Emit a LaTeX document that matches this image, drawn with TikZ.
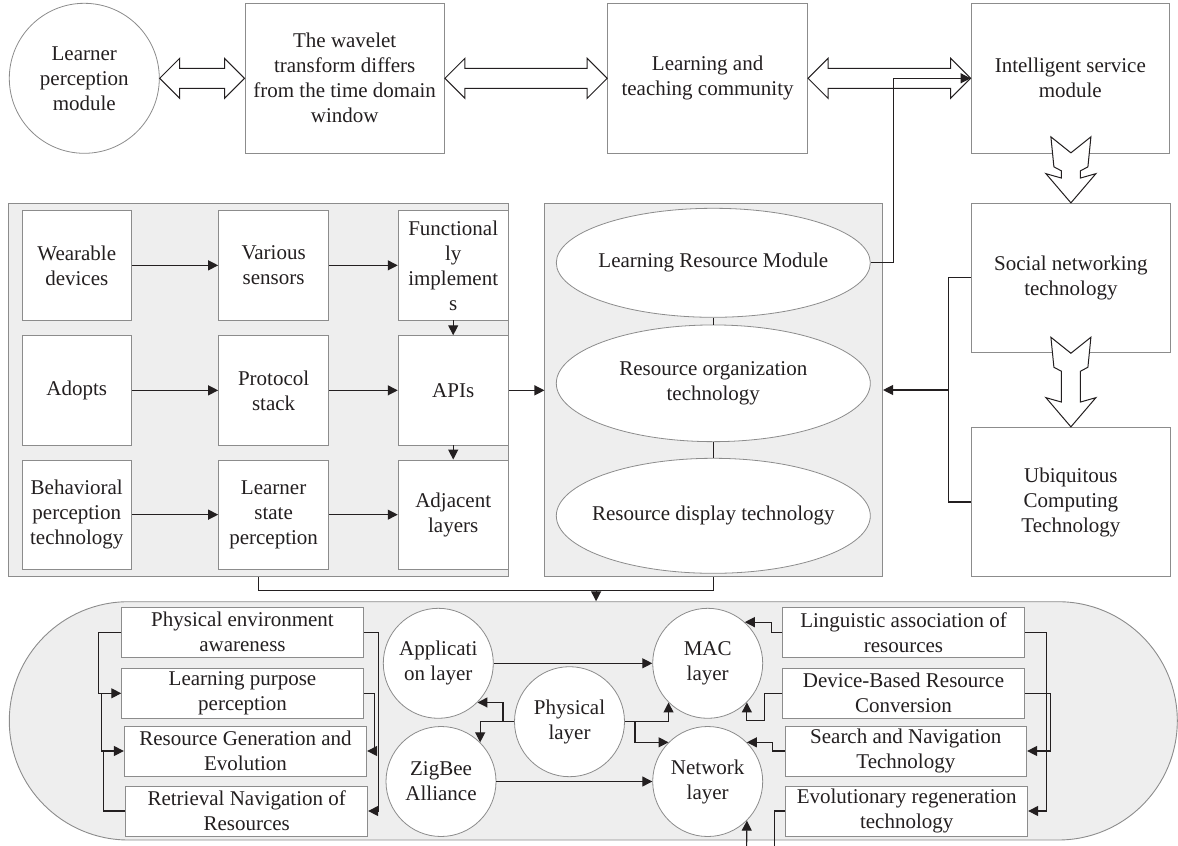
\documentclass[tikz,border=0pt]{standalone}
\usepackage{fontspec}
\setmainfont{Liberation Serif}
\usetikzlibrary{arrows.meta,shapes.geometric,shapes.misc,calc}
\definecolor{bordergray}{RGB}{140,140,140}
\definecolor{panelfill}{RGB}{238,238,238}
\definecolor{ink}{RGB}{35,31,32}
\tikzset{
  txt/.style={font=\fontsize{21}{25}\selectfont, text=ink, align=center, inner sep=0pt},
  box/.style={txt, draw=bordergray, fill=white, line width=0.9pt, rectangle},
  panel/.style={draw=bordergray, fill=panelfill, line width=0.9pt, inner sep=0pt},
  circ/.style={txt, draw=bordergray, fill=white, line width=0.8pt, circle, minimum size=110pt},
  ell/.style={draw=bordergray, fill=white, line width=0.8pt, ellipse, inner sep=0pt},
  conn/.style={draw=ink, line width=1.2pt},
  arr/.style={conn, -{Triangle[length=10pt,width=10pt]}},
  hollow/.style={draw=ink, fill=white, line width=1pt, line join=miter},
}
\newcommand{\hollowdbl}[2]{%
  \draw[hollow] (#1) -- ++(20,-20) -- ++(0,10) -- ($(#2)+(-20,-10)$) -- ++(0,-10)
    -- (#2) -- ++(-20,20) -- ++(0,-10) -- ($(#1)+(20,10)$) -- ++(0,10) -- cycle;}
\newcommand{\notchedarrow}[2]{%
  \draw[hollow] (#1) -- ($(#1)+(25,-29.2)$) -- ($(#1)+(9.5,-24.8)$) -- ($(#1)+(9.5,-#2)$)
    -- ($(#1)+(17,-#2-4)$) -- ($(#1)+(20,-#2-34)$) -- ($(#1)+(0,-#2-18)$)
    -- ($(#1)+(-20,-#2-34)$) -- ($(#1)+(-17,-#2-4)$) -- ($(#1)+(-9.5,-#2)$)
    -- ($(#1)+(-9.5,-24.8)$) -- ($(#1)+(-25,-29.2)$) -- cycle;}
\begin{document}
\begin{tikzpicture}[x=1pt,y=-1pt]
\useasboundingbox (0,0) rectangle (1178,846);

% ---------- top row ----------
\node[circ, minimum size=150pt] (learner) at (84.3,78.3) {Learner\\perception\\module};
\node[box, minimum width=199.5pt, minimum height=150pt] (wav) at (344.7,78.3) {The wavelet\\transform differs\\from the time domain\\window};
\node[box, minimum width=200pt, minimum height=150pt] (learn) at (707.6,78.3) {Learning and\\teaching community};
\node[box, minimum width=198.5pt, minimum height=150pt] (intel) at (1070.3,78.3) {Intelligent service\\module};

\hollowdbl{learner.east}{wav.west}
\hollowdbl{wav.east}{learn.west}
\hollowdbl{learn.east}{intel.west}

% ---------- middle panels ----------
\node[panel, minimum width=499.3pt, minimum height=373.4pt] (lpan) at (258.55,390) {};
\node[panel, minimum width=337.7pt, minimum height=373.4pt] (mid) at (713.75,390) {};

\node[box, minimum width=109.3pt, minimum height=109.3pt] (b11) at (76.75,265.35) {Wearable\\devices};
\node[box, minimum width=110pt, minimum height=109.3pt] (b12) at (273.6,265.35) {Various\\sensors};
\node[box, minimum width=110pt, minimum height=109.3pt] (b13) at (453.2,265.35) {Functional\\ly\\implement\\s};
\node[box, minimum width=109.3pt, minimum height=109.3pt] (b21) at (76.75,390.35) {Adopts};
\node[box, minimum width=110pt, minimum height=109.3pt] (b22) at (273.6,390.35) {Protocol\\stack};
\node[box, minimum width=110pt, minimum height=109.3pt] (b23) at (453.2,390.35) {APIs};
\node[box, minimum width=109.3pt, minimum height=109.3pt] (b31) at (76.75,514.65) {Behavioral\\perception\\technology};
\node[box, minimum width=110pt, minimum height=109.3pt] (b32) at (273.6,514.65) {Learner\\state\\perception};
\node[box, minimum width=110pt, minimum height=109.3pt] (b33) at (453.2,514.65) {Adjacent\\layers};

\node[ell, minimum width=314pt, minimum height=109pt, label={[txt]center:{Learning Resource Module}}] (e1) at (713.3,262.8) {};
\node[ell, minimum width=314pt, minimum height=116.7pt, label={[txt]center:{Resource organization\\technology}}] (e2) at (713.3,383.3) {};
\node[ell, minimum width=314pt, minimum height=115pt, label={[txt]center:{Resource display technology}}] (e3) at (713.3,515.8) {};

\node[box, minimum width=199.4pt, minimum height=149pt] (soc) at (1070.9,277.8) {Social networking\\technology};
\node[box, minimum width=199.4pt, minimum height=149.4pt] (ubq) at (1070.9,502) {Ubiquitous\\Computing\\Technology};

\notchedarrow{soc.north}{32}
\notchedarrow{ubq.north}{55.6}

% ---------- bottom panel ----------
\node[panel, rounded rectangle, minimum width=1168pt, minimum height=238.3pt] (bot) at (593.3,720.85) {};

\node[box, minimum width=241.6pt, minimum height=50pt] (phys) at (242.5,632.3) {Physical environment\\awareness};
\node[box, minimum width=241.6pt, minimum height=50pt] (lpur) at (242.5,693.3) {Learning purpose\\perception};
\node[box, minimum width=242.4pt, minimum height=50pt] (rgen) at (245.5,751) {Resource Generation and\\Evolution};
\node[box, minimum width=242pt, minimum height=50pt] (retr) at (246.7,811) {Retrieval Navigation of\\Resources};

\node[box, minimum width=241.6pt, minimum height=50pt] (ling) at (903.5,632.3) {Linguistic association of\\resources};
\node[box, minimum width=241.6pt, minimum height=50pt] (dev) at (903.5,693.3) {Device-Based Resource\\Conversion};
\node[box, minimum width=241.7pt, minimum height=50pt] (search) at (905.8,751) {Search and Navigation\\Technology};
\node[box, minimum width=242pt, minimum height=50pt] (evol) at (906.7,811) {Evolutionary regeneration\\technology};

\node[circ] (app) at (438.3,663.3) {Applicati\\on layer};
\node[circ] (zig) at (441,781.5) {ZigBee\\Alliance};
\node[circ] (phy) at (569.5,721.7) {Physical\\layer};
\node[circ] (mac) at (707.7,663.3) {MAC\\layer};
\node[circ] (net) at (707.7,781.5) {Network\\layer};

% ---------- connectors: middle ----------
\draw[arr] (b11.east) -- (b12.west);
\draw[arr] (b12.east) -- (b13.west);
\draw[arr] (b21.east) -- (b22.west);
\draw[arr] (b22.east) -- (b23.west);
\draw[arr] (b31.east) -- (b32.west);
\draw[arr] (b32.east) -- (b33.west);
\draw[arr] (b13.south) -- (b23.north);
\draw[arr] (b23.south) -- (b33.north);
\draw[arr] (b23.east) -- (b23.east -| mid.west);

\draw[conn] (e1.south) -- (e2.north);
\draw[conn] (e2.south) -- (e3.north);
\draw[arr] (e1.east) -- ++(22.8,0) |- (intel.west);

\draw[conn] (soc.west) -- ++(-22.3,0) |- (ubq.west);
\coordinate (sj) at (948.9,390);
\draw[arr] (sj) -- (sj -| mid.east);

\draw[conn] (lpan.south) -- ++(0,13.3) -| (mid.south);
\coordinate (dj) at (596.1,590);
\draw[arr] (dj) -- (dj |- bot.north);

% ---------- connectors: bottom left ----------
\draw[arr] (phys.west) -- ++(-22.4,0) |- (lpur.west);
\coordinate (lj1) at (101.7,693.3);
\draw[arr] (lj1) |- (rgen.west);
\coordinate (lj2) at (103.3,751);
\draw[conn] (retr.west) -| (lj2);
\draw[arr] (phys.east) -- ++(15,0) |- (retr.east);
\draw[arr] (lpur.east) -- ++(11,0) |- (rgen.east);

% ---------- connectors: circles ----------
\draw[arr] (app.east) -- (mac.west);
\draw[arr] (zig.east) -- (net.west);
\draw[arr] (phy.west) -- ++(-11.2,0) |- (app.-45);
\coordinate (pj1) at (503.3,721.7);
\draw[arr] (pj1) -| (zig.45);
\draw[arr] (phy.east) -| (mac.-135);
\coordinate (pj2) at (635,721.7);
\draw[arr] (pj2) |- (net.135);

% ---------- connectors: bottom right ----------
\draw[arr] (ling.west) -- ++(-10.4,0) |- (mac.48);
\draw[arr] (dev.west) -- ++(-17.7,0) -- ++(0,27.4) -| (mac.-45);
\draw[arr] (search.west) -- ++(-11.7,0) |- (net.45);
\coordinate (ev) at (774.3,846);
\draw[conn] (evol.west) -| (ev);
\coordinate (nb) at (746.6,846);
\draw[arr] (nb) -- (net.-45);
\draw[arr] (ling.east) -- ++(21.7,0) |- (evol.east);
\draw[arr] (dev.east) -- ++(25.7,0) |- (search.east);
\end{tikzpicture}
\end{document}
